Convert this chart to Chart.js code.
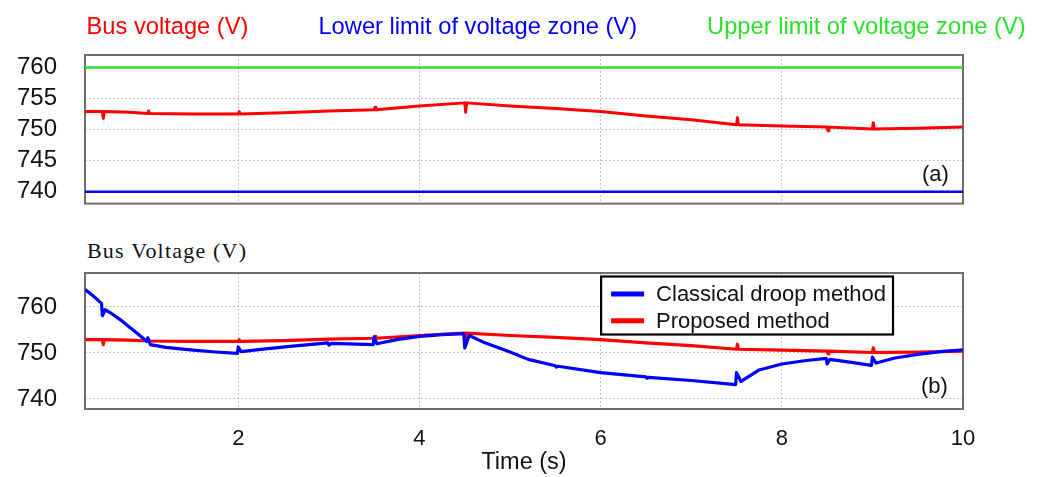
<!DOCTYPE html>
<html><head><meta charset="utf-8">
<script src="https://cdn.jsdelivr.net/npm/chart.js@4.4.0/dist/chart.umd.min.js"></script>
<style>
html,body{margin:0;padding:0;background:#fff;}
body{width:1046px;height:477px;position:relative;overflow:hidden;font-family:"Liberation Sans",Arial,sans-serif;}
canvas{position:absolute;left:0;display:block;}
#chartA{top:0;}
#chartB{top:230px;}
.lbl{position:absolute;font-size:22px;line-height:22px;color:#111;}
#titleB{position:absolute;left:87px;top:240px;font-family:"Liberation Serif",serif;font-size:22px;line-height:21px;letter-spacing:1.2px;color:#111;white-space:nowrap;}
</style></head>
<body>
<canvas id="chartA" width="1046" height="221" style="width:1046px;height:221px"></canvas>
<div id="titleB">Bus Voltage (V)</div>
<canvas id="chartB" width="1046" height="247" style="width:1046px;height:247px"></canvas>
<div class="lbl" style="left:922px;top:163px">(a)</div>
<div class="lbl" style="left:921px;top:375px">(b)</div>
<script>
// ---- data ----
const timeProposed = [0.31, 0.5, 0.51, 0.52, 0.8, 1.0, 1.01, 1.02, 1.5, 2.0, 2.01, 2.02, 2.5, 3.0, 3.5, 3.51, 3.52, 4.0, 4.5, 4.51, 4.52, 5.0, 5.5, 6.0, 6.5, 7.0, 7.5, 7.51, 7.52, 8.0, 8.5, 8.51, 8.52, 9.0, 9.01, 9.02, 9.5, 10.0];
const busVoltage   = [752.9, 752.9, 751.8, 752.9, 752.8, 752.6, 753.0, 752.6, 752.5, 752.5, 752.9, 752.5, 752.7, 753.0, 753.2, 753.6, 753.2, 753.8, 754.3, 752.8, 754.3, 753.8, 753.4, 752.9, 752.2, 751.6, 750.8, 751.9, 750.8, 750.6, 750.4, 749.8, 750.4, 750.1, 751.1, 750.1, 750.2, 750.4];
const timeClassical = [0.31, 0.4, 0.49, 0.5, 0.53, 0.6, 0.7, 0.8, 0.9, 0.99, 1.0, 1.03, 1.2, 1.5, 1.75, 1.99, 2.0, 2.03, 2.3, 2.6, 2.99, 3.0, 3.03, 3.49, 3.5, 3.53, 3.75, 4.0, 4.25, 4.49, 4.5, 4.55, 4.7, 4.85, 5.0, 5.2, 5.5, 5.51, 5.53, 6.0, 6.5, 6.51, 6.53, 7.0, 7.49, 7.5, 7.55, 7.75, 8.0, 8.25, 8.49, 8.5, 8.53, 8.75, 8.99, 9.0, 9.04, 9.25, 9.5, 9.75, 10.0];
const classicalVoltage = [763.8, 762.4, 760.8, 758.1, 759.4, 758.6, 757.2, 755.6, 754.0, 752.5, 753.3, 751.8, 751.2, 750.6, 750.2, 749.9, 751.3, 750.3, 750.9, 751.5, 752.2, 751.7, 752.1, 751.8, 753.5, 752.0, 752.9, 753.6, 754.0, 754.2, 751.1, 753.8, 752.4, 751.3, 750.2, 748.6, 747.2, 746.9, 747.1, 745.7, 744.8, 744.5, 744.7, 744.0, 743.1, 745.7, 743.8, 746.3, 747.6, 748.3, 748.8, 747.6, 748.6, 748.0, 747.3, 749.1, 747.8, 748.9, 749.7, 750.3, 750.7];
const limitTime  = [0.308, 10.0];
const lowerLimit = [740, 740];
const upperLimit = [760, 760];
const xTicks  = [2, 4, 6, 8, 10];
const yTicksA = [740, 745, 750, 755, 760];
const yTicksB = [740, 745, 750, 755, 760, 765];
const labelsA = ['Bus voltage (V)', 'Lower limit of voltage zone (V)', 'Upper limit of voltage zone (V)'];
const labelsB = ['Classical droop method', 'Proposed method'];

const RED = '#ff0000', BLUE = '#0000ff', GREEN = '#2ee02e';
const FONT = '"Liberation Sans", Arial, sans-serif';
const pts = (xs, ys) => xs.map((x, i) => ({x: x, y: ys[i]}));

const framePlugin = {
  id: 'frame',
  beforeDatasetsDraw(chart) {
    const {ctx, chartArea: a} = chart;
    ctx.save();
    ctx.strokeStyle = '#6e6e6e';
    ctx.lineWidth = 2;
    ctx.strokeRect(a.left, a.top, a.right - a.left, a.bottom - a.top);
    ctx.restore();
  }
};

const topLabelsPlugin = {
  id: 'topLabels',
  afterDraw(chart) {
    const {ctx, chartArea: a} = chart;
    ctx.save();
    ctx.font = '23.7px ' + FONT;
    ctx.textBaseline = 'middle';
    let x = a.left + 1.5;
    chart.data.datasets.forEach(ds => {
      ctx.fillStyle = ds.borderColor;
      ctx.fillText(ds.label, x, 27);
      x += ctx.measureText(ds.label).width + 70;
    });
    ctx.restore();
  }
};

const boxLegendPlugin = {
  id: 'boxLegend',
  afterDraw(chart) {
    const {ctx, chartArea: a} = chart;
    ctx.save();
    ctx.font = '22px ' + FONT;
    const ds = chart.data.datasets;
    const tw = Math.max(...ds.map(d => ctx.measureText(d.label).width));
    const w = 10 + 33 + 12 + tw + 7;
    const h = 58;
    const right = a.right - 70, top = a.top + 3.5;
    const left = right - w;
    ctx.fillStyle = '#fff';
    ctx.fillRect(left, top, w, h);
    ctx.strokeStyle = '#000';
    ctx.lineWidth = 2.2;
    ctx.strokeRect(left, top, w, h);
    ctx.textBaseline = 'middle';
    ds.forEach((d, i) => {
      const y = top + 17.5 + i * 26.7;
      ctx.strokeStyle = d.borderColor;
      ctx.lineWidth = 5;
      ctx.beginPath(); ctx.moveTo(left + 10, y); ctx.lineTo(left + 43, y); ctx.stroke();
      ctx.fillStyle = '#111';
      ctx.fillText(d.label, left + 55, y + 1);
    });
    ctx.restore();
  }
};

const gridX = {color: '#c4c4c4', lineWidth: 1, drawTicks: false};
const gridY = {color: '#c4c4c4', lineWidth: 1, drawTicks: true, tickLength: 25, tickColor: 'rgba(0,0,0,0)'};
const borderOpts = {display: false, dash: [2, 2]};
const lineEl = {tension: 0, borderJoinStyle: 'round', borderCapStyle: 'butt'};

new Chart(document.getElementById('chartA'), {
  type: 'line',
  data: {
    datasets: [
      {label: labelsA[0], data: pts(timeProposed, busVoltage), borderColor: RED, borderWidth: 3},
      {label: labelsA[1], data: pts(limitTime, lowerLimit), borderColor: BLUE, borderWidth: 2.5},
      {label: labelsA[2], data: pts(limitTime, upperLimit), borderColor: GREEN, borderWidth: 2.5}
    ]
  },
  options: {
    responsive: false, animation: false, devicePixelRatio: 1,
    elements: {point: {radius: 0}, line: lineEl},
    layout: {padding: {top: 55, right: 83, left: 0, bottom: 0}},
    plugins: {legend: {display: false}, tooltip: {enabled: false}},
    scales: {
      x: {type: 'linear', min: 0.308, max: 10.0,
          afterBuildTicks: s => { s.ticks = xTicks.map(v => ({value: v})); },
          afterFit: s => { s.height = 11; },
          ticks: {display: false}, grid: gridX, border: borderOpts},
      y: {type: 'linear', min: 738.1, max: 762.0,
          afterBuildTicks: s => { s.ticks = yTicksA.map(v => ({value: v})); },
          afterFit: s => { s.width = 85; },
          ticks: {font: {family: FONT, size: 24}, color: '#111', padding: 3},
          grid: gridY, border: borderOpts}
    }
  },
  plugins: [framePlugin, topLabelsPlugin]
});

new Chart(document.getElementById('chartB'), {
  type: 'line',
  data: {
    datasets: [
      {label: labelsB[0], data: pts(timeClassical, classicalVoltage), borderColor: BLUE, borderWidth: 3.2},
      {label: labelsB[1], data: pts(timeProposed, busVoltage), borderColor: RED, borderWidth: 3.2}
    ]
  },
  options: {
    responsive: false, animation: false, devicePixelRatio: 1,
    elements: {point: {radius: 0}, line: lineEl},
    layout: {padding: {top: 43, right: 83, left: 0, bottom: 0}},
    plugins: {legend: {display: false}, tooltip: {enabled: false}},
    scales: {
      x: {type: 'linear', min: 0.308, max: 10.0,
          afterBuildTicks: s => { s.ticks = xTicks.map(v => ({value: v})); },
          afterFit: s => { s.height = 68; },
          ticks: {font: {family: FONT, size: 22}, color: '#111', padding: 17, maxRotation: 0, autoSkip: false},
          title: {display: true, text: 'Time (s)', font: {family: FONT, size: 23.5}, color: '#111', padding: {top: 0, bottom: 0}},
          grid: gridX, border: borderOpts},
      y: {type: 'linear', min: 737.8, max: 767.4,
          afterBuildTicks: s => { s.ticks = yTicksB.map(v => ({value: v})); },
          afterFit: s => { s.width = 85; },
          ticks: {font: {family: FONT, size: 24}, color: '#111', padding: 3,
                  callback: v => (v % 10 === 0 ? String(v) : '')},
          grid: gridY, border: borderOpts}
    }
  },
  plugins: [framePlugin, boxLegendPlugin]
});
</script>
</body></html>
